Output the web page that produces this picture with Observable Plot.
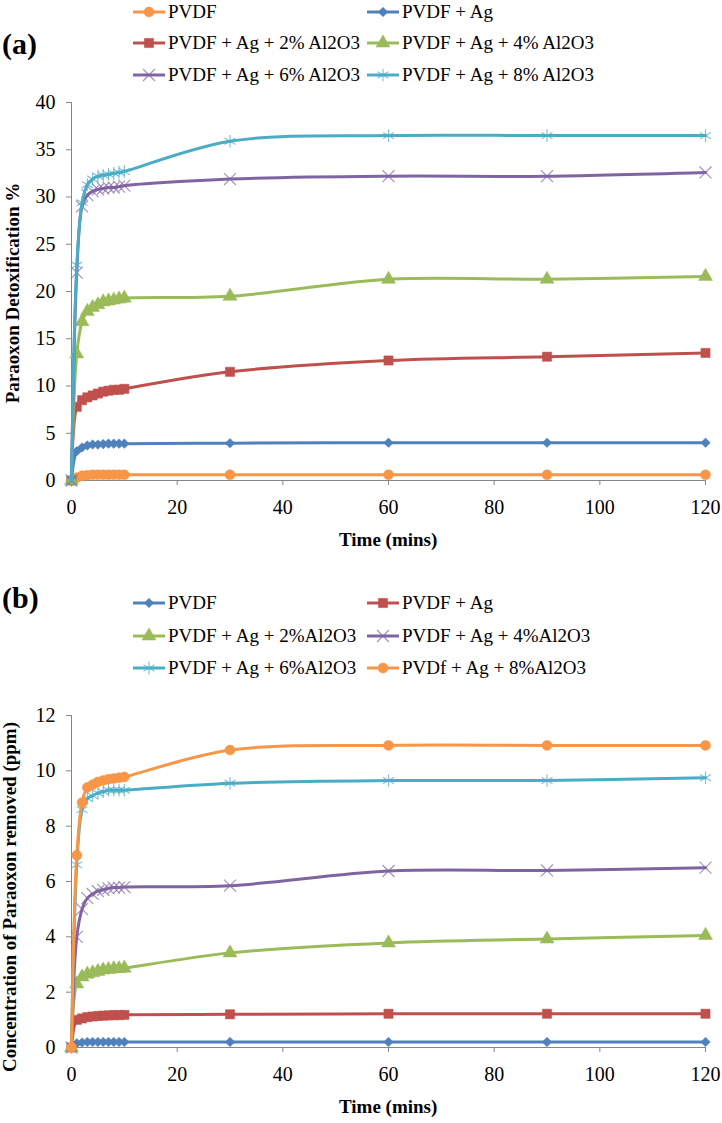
<!DOCTYPE html>
<html>
<head>
<meta charset="utf-8">
<script src="https://cdn.jsdelivr.net/npm/d3@7"></script>
<script src="https://cdn.jsdelivr.net/npm/@observablehq/plot@0.6"></script>
<style>
  html, body { margin: 0; padding: 0; background: #fff; }
  #root { position: relative; width: 722px; height: 1123px; overflow: hidden; font-family: "Liberation Serif", "Times New Roman", serif; color: #000; }
  .abs { position: absolute; white-space: nowrap; }
  .panel { font-weight: bold; font-size: 30px; }
  .title { font-weight: bold; font-size: 19px; }
  .ylab { font-weight: bold; font-size: 19px; transform: translate(-50%, -50%) rotate(-90deg); }
  .leg { display: flex; align-items: center; font-size: 19px; }
  .leg svg { display: block; margin-right: 2px; }
</style>
</head>
<body>
<div id="root"></div>
<script>
// ---------- data ----------
const timeMins = [0, 1, 2, 3, 4, 5, 6, 7, 8, 9, 10, 30, 60, 90, 120];
const xTicks = [0, 20, 40, 60, 80, 100, 120];

// Panel (a): Paraoxon Detoxification %
const labelsA = ["PVDF", "PVDF + Ag", "PVDF + Ag + 2% Al2O3", "PVDF + Ag + 4% Al2O3", "PVDF + Ag + 6% Al2O3", "PVDF + Ag + 8% Al2O3"];
const detoxPVDF = [0, 0.3, 0.5, 0.55, 0.6, 0.6, 0.6, 0.6, 0.6, 0.6, 0.6, 0.6, 0.6, 0.6, 0.6];
const detoxAg   = [0, 3.1, 3.5, 3.7, 3.8, 3.8, 3.85, 3.9, 3.9, 3.9, 3.9, 3.95, 4.0, 4.0, 4.0];
const detox2    = [0, 7.8, 8.5, 8.8, 9.0, 9.2, 9.4, 9.5, 9.6, 9.6, 9.7, 11.5, 12.7, 13.1, 13.5];
const detox4    = [0, 13.4, 16.8, 17.9, 18.3, 18.6, 18.9, 19.0, 19.1, 19.2, 19.3, 19.5, 21.3, 21.3, 21.6];
const detox6    = [0, 22.0, 29.0, 30.2, 30.6, 30.8, 30.9, 31.0, 31.0, 31.1, 31.2, 31.9, 32.2, 32.2, 32.6];
const detox8    = [0, 22.8, 29.4, 31.3, 31.9, 32.2, 32.3, 32.4, 32.5, 32.6, 32.7, 35.9, 36.5, 36.5, 36.5];
const yTicksA = [0, 5, 10, 15, 20, 25, 30, 35, 40];

// Panel (b): Concentration of Paraoxon removed (ppm)
const labelsB = ["PVDF", "PVDF + Ag", "PVDF + Ag + 2%Al2O3", "PVDF + Ag + 4%Al2O3", "PVDF + Ag + 6%Al2O3", "PVDf + Ag + 8%Al2O3"];
const removedPVDF = [0, 0.15, 0.18, 0.2, 0.2, 0.2, 0.2, 0.2, 0.2, 0.2, 0.2, 0.2, 0.2, 0.2, 0.2];
const removedAg   = [0, 1.0, 1.05, 1.1, 1.12, 1.14, 1.15, 1.16, 1.17, 1.17, 1.18, 1.2, 1.22, 1.22, 1.22];
const removed2    = [0, 2.3, 2.55, 2.65, 2.7, 2.75, 2.8, 2.82, 2.85, 2.85, 2.87, 3.42, 3.78, 3.92, 4.05];
const removed4    = [0, 4.0, 5.0, 5.4, 5.55, 5.65, 5.7, 5.75, 5.78, 5.78, 5.8, 5.85, 6.38, 6.4, 6.5];
const removed6    = [0, 6.6, 8.6, 9.0, 9.1, 9.2, 9.25, 9.3, 9.3, 9.3, 9.3, 9.55, 9.65, 9.65, 9.75];
const removed8    = [0, 6.95, 8.85, 9.4, 9.5, 9.6, 9.65, 9.7, 9.72, 9.75, 9.78, 10.75, 10.92, 10.92, 10.92];
const yTicksB = [0, 2, 4, 6, 8, 10, 12];

// ---------- styles ----------
const C = {blue: "#4F81BD", red: "#C0504D", green: "#9BBB59", purple: "#8064A2", cyan: "#4BACC6", orange: "#F79646"};
const M = {
  circle:   {symbol: "circle",   r: 5,   filled: true},
  diamond:  {symbol: "diamond2", r: 4.3, filled: true},
  square:   {symbol: "square",   r: 5.2, filled: true},
  triangle: {symbol: "triangle", r: 5.2, filled: true},
  times:    {symbol: "times",    r: 5.5, filled: false},
  asterisk: {symbol: "asterisk", r: 6,   filled: false}
};
const stylesA = [
  {color: C.orange, m: M.circle}, {color: C.blue, m: M.diamond}, {color: C.red, m: M.square},
  {color: C.green, m: M.triangle}, {color: C.purple, m: M.times}, {color: C.cyan, m: M.asterisk}
];
const stylesB = [
  {color: C.blue, m: M.diamond}, {color: C.red, m: M.square}, {color: C.green, m: M.triangle},
  {color: C.purple, m: M.times}, {color: C.cyan, m: M.asterisk}, {color: C.orange, m: M.circle}
];

function rows(values) { return timeMins.map((t, i) => ({t, v: values[i]})); }

function makeChart({series, styles, yDomain, yTicks, height, marginTop, marginBottom}) {
  const marks = [
    Plot.ruleY([yDomain[0]], {stroke: "#868686", strokeWidth: 1}),
    Plot.ruleX([0], {stroke: "#868686", strokeWidth: 1}),
    Plot.axisX(xTicks, {tickSize: 5, tickPadding: 14, stroke: "#868686", fill: "#000", label: null}),
    Plot.axisY(yTicks, {tickSize: 5, tickPadding: 11, stroke: "#868686", fill: "#000", label: null})
  ];
  series.forEach((vals, i) => {
    const s = styles[i];
    const d = rows(vals);
    marks.push(Plot.line(d, {x: "t", y: "v", stroke: s.color, strokeWidth: 3, curve: "catmull-rom"}));
    marks.push(Plot.dot(d, s.m.filled
      ? {x: "t", y: "v", symbol: () => s.m.symbol, r: s.m.r, fill: s.color, stroke: s.color, strokeWidth: 0.5}
      : {x: "t", y: "v", symbol: () => s.m.symbol, r: s.m.r, fill: "none", stroke: s.color, strokeOpacity: 0.7, strokeWidth: 1.2}));
  });
  return Plot.plot({
    width: 722, height, marginTop, marginBottom, marginLeft: 71, marginRight: 17,
    style: {fontFamily: "'Liberation Serif', 'Times New Roman', serif", fontSize: "20px", background: "transparent", color: "#000"},
    x: {domain: [0, 120]},
    y: {domain: yDomain},
    symbol: {type: "identity"},
    marks
  });
}

const root = document.getElementById("root");
function place(el, left, top) { el.style.position = "absolute"; el.style.left = left + "px"; el.style.top = top + "px"; root.appendChild(el); return el; }
function text(cls, str, left, top) { const d = document.createElement("div"); d.className = "abs " + cls; d.textContent = str; return place(d, left, top); }

const chartA = makeChart({series: [detoxPVDF, detoxAg, detox2, detox4, detox6, detox8], styles: stylesA,
  yDomain: [0, 40], yTicks: yTicksA, height: 560, marginTop: 102, marginBottom: 80});
place(chartA, 0, 0);
const chartB = makeChart({series: [removedPVDF, removedAg, removed2, removed4, removed6, removed8], styles: stylesB,
  yDomain: [0, 12], yTicks: yTicksB, height: 563, marginTop: 155, marginBottom: 76});
place(chartB, 0, 560);

// legends
const symTypes = {circle: d3.symbolCircle, diamond2: d3.symbolDiamond2, square: d3.symbolSquare, triangle: d3.symbolTriangle, times: d3.symbolTimes, asterisk: d3.symbolAsterisk};
function legendItem(label, s, left, cy) {
  const div = document.createElement("div");
  div.className = "abs leg";
  const svg = d3.create("svg").attr("width", 34).attr("height", 20);
  svg.append("line").attr("x1", 1).attr("x2", 33).attr("y1", 10).attr("y2", 10).attr("stroke", s.color).attr("stroke-width", 3);
  const p = d3.symbol(symTypes[s.m.symbol], Math.PI * s.m.r * s.m.r)();
  const path = svg.append("path").attr("d", p).attr("transform", "translate(17,10)");
  if (s.m.filled) path.attr("fill", s.color).attr("stroke", s.color).attr("stroke-width", 0.5);
  else path.attr("fill", "none").attr("stroke", s.color).attr("stroke-opacity", 0.7).attr("stroke-width", 1.2);
  div.appendChild(svg.node());
  const sp = document.createElement("span"); sp.textContent = label; div.appendChild(sp);
  place(div, left, cy - 11);
}
const legRowsA = [12, 43, 75], legRowsB = [603, 636, 668], legCols = [132, 366];
labelsA.forEach((l, i) => legendItem(l, stylesA[i], legCols[i % 2], legRowsA[Math.floor(i / 2)]));
labelsB.forEach((l, i) => legendItem(l, stylesB[i], legCols[i % 2], legRowsB[Math.floor(i / 2)]));

// titles and axis labels
text("panel", "(a)", 2, 27);
text("panel", "(b)", 2, 581);
const tA = text("title", "Time (mins)", 0, 529); tA.style.left = (388 - tA.offsetWidth / 2) + "px";
const tB = text("title", "Time (mins)", 0, 1096); tB.style.left = (388 - tB.offsetWidth / 2) + "px";
text("ylab", "Paraoxon Detoxification %", 13, 293);
text("ylab", "Concentration of Paraoxon removed (ppm)", 10, 897);
</script>
</body>
</html>
